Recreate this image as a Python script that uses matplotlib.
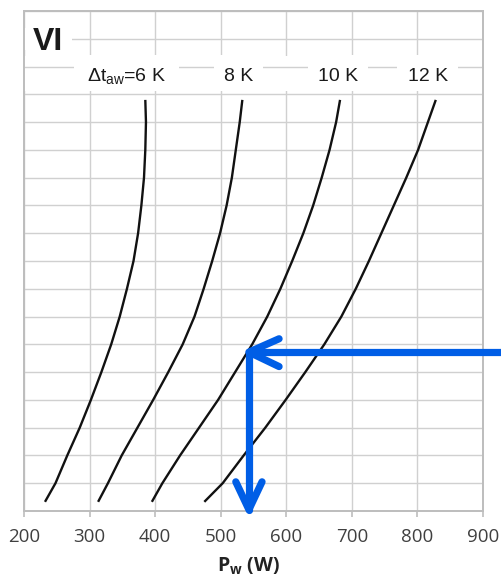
import matplotlib
matplotlib.use("Agg")
import matplotlib.pyplot as plt
from matplotlib.patches import Rectangle
import numpy as np

plt.rcParams['mathtext.fontset'] = 'custom'
plt.rcParams['mathtext.rm'] = 'Liberation Sans'
plt.rcParams['mathtext.it'] = 'Liberation Sans:italic'
plt.rcParams['mathtext.bf'] = 'Open Sans:bold'

# ---- data ----
y_levels = [0.33, 1, 2, 3, 4, 5, 6, 7, 8, 9, 10, 11, 12, 13, 14, 14.8]
pw_6K = [232, 248, 266, 285, 302, 318, 333, 346, 357, 367, 374, 379, 383, 385, 386, 385]
pw_8K = [313, 328, 349, 373, 397, 420, 442, 460, 474, 487, 499, 509, 517, 523, 529, 533]
pw_10K = [395, 411, 438, 467, 496, 522, 548, 571, 591, 609, 626, 641, 654, 666, 676, 682]
pw_12K = [475, 503, 535, 568, 599, 629, 658, 684, 706, 726, 745, 764, 783, 801, 816, 828]
series = [pw_6K, pw_8K, pw_10K, pw_12K]

curve_labels = ['Δt$_{\\mathrm{aw}}$=6 K', '8 K', '10 K', '12 K']
label_x = [357, 527, 679, 816]
label_box_w = [160, 76, 92, 93]

xticks = [200, 300, 400, 500, 600, 700, 800, 900]
xtick_labels = ['200', '300', '400', '500', '600', '700', '800', '900']

# reading example (blue arrows)
read_x = 543
read_y = 5.72
arrow_start_x = 935
arrow_end_y = 0.05

panel_label = 'VI'

# ---- figure ----
fig = plt.figure(figsize=(5.01, 5.78), dpi=100)
ax = fig.add_axes([24 / 501, 1 - 511 / 578, 459 / 501, 500 / 578])
ax.set_xlim(200, 900)
ax.set_ylim(0, 18)

grid_c = '#D0D0D0'
spine_c = '#BDBDBD'
ax.set_xticks(xticks)
ax.set_xticklabels(xtick_labels, fontfamily='Open Sans', fontsize=13.5, color='#404040')
ax.set_yticks(np.arange(0, 19, 1))
ax.tick_params(axis='y', length=0, labelleft=False)
ax.tick_params(axis='x', direction='out', length=4, width=1.2, color=spine_c, pad=8)
ax.grid(True, color=grid_c, linewidth=1.0)
ax.set_axisbelow(True)
ax.xaxis.set_zorder(0.5)
ax.yaxis.set_zorder(0.9)
for s in ax.spines.values():
    s.set_color(spine_c)
    s.set_linewidth(1.4)

# white band under the curve labels (hides the vertical grid lines)
ax.add_patch(Rectangle((200, 15.12), 700, 1.27, facecolor='white', edgecolor='none', zorder=0.7))

# curves
for pw in series:
    ax.plot(pw, y_levels, color='#111111', linewidth=1.7, zorder=3,
            solid_capstyle='butt', solid_joinstyle='round')

# curve labels
for lab, lx, bw in zip(curve_labels, label_x, label_box_w):
    ax.add_patch(Rectangle((lx - bw / 2, 15.6), bw, 0.8, facecolor='white', edgecolor='none', zorder=2))
    ax.text(lx, 15.48, lab, ha='center', va='baseline', fontsize=14,
            fontfamily='Liberation Sans', color='#1a1a1a', zorder=4)

# panel label
ax.add_patch(Rectangle((200, 16.6), 73, 0.8, facecolor='white', edgecolor='none', zorder=2))
ax.text(213.7, 16.6, panel_label, ha='left', va='baseline', fontsize=23,
        fontweight='bold', fontfamily='Liberation Sans', color='#1a1a1a', zorder=4)

# blue reading arrows
blue = '#005EE6'
lw = 5.2
kw = dict(color=blue, linewidth=lw, solid_capstyle='round', solid_joinstyle='round',
          clip_on=False, zorder=6)
ax.plot([arrow_start_x, read_x], [read_y, read_y], **kw)
ax.plot([read_x + 46, read_x, read_x + 46], [read_y + 0.48, read_y, read_y - 0.52], **kw)
ax.plot([read_x, read_x], [read_y, arrow_end_y], **kw)
ax.plot([read_x - 20, read_x, read_x + 20], [arrow_end_y + 1.0, arrow_end_y, arrow_end_y + 1.0], **kw)

# x label
ax.set_xlabel('P$_{\\mathbf{w}}$ (W)', fontfamily='Open Sans', fontweight='bold',
              fontsize=14, color='#222222')
ax.xaxis.set_label_coords(0.488, -0.088)

fig.savefig('out.png', dpi=100)
